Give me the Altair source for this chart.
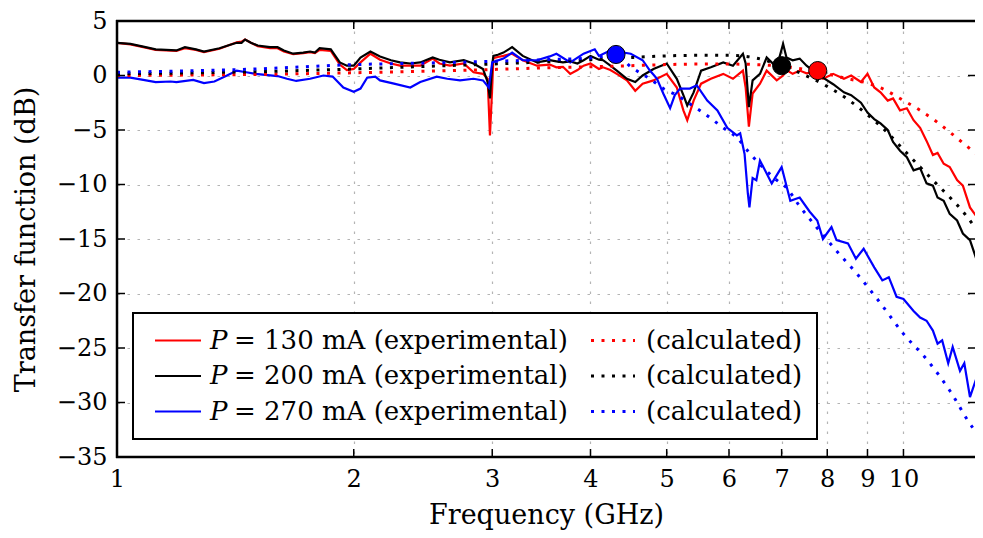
import altair as alt
import pandas as pd

# ---------------- data ----------------
f_exp = [1.00, 1.04, 1.08, 1.12, 1.19, 1.22, 1.26, 1.29, 1.35, 1.39, 1.42, 1.44, 1.455, 1.48, 1.51,
         1.565, 1.60, 1.63, 1.675, 1.725, 1.76, 1.785, 1.81, 1.87, 1.92, 1.96, 2.0, 2.04, 2.10, 2.16,
         2.23, 2.29, 2.36, 2.43, 2.52, 2.57, 2.65, 2.76, 2.84, 2.92, 2.96, 2.98, 3.0, 3.01, 3.05, 3.10,
         3.18, 3.28, 3.42, 3.55, 3.62, 3.69, 3.77, 3.85, 3.92, 4.0, 4.10, 4.15, 4.24, 4.32, 4.45, 4.56,
         4.66, 4.81, 5.0, 5.15, 5.25, 5.31, 5.41, 5.53, 5.69, 5.9, 6.07, 6.25, 6.30, 6.36, 6.43, 6.57,
         6.7, 6.9, 7.03, 7.1, 7.23, 7.38, 7.53, 7.67, 7.9, 8.14, 8.4, 8.58, 8.83, 9.0, 9.18, 9.35, 9.55,
         9.7, 9.9, 10.1, 10.3, 10.5, 10.7, 10.9, 11.05, 11.25, 11.45, 11.7, 11.9, 12.15, 12.4, 12.64]

exp_130 = [3.0, 2.85, 2.6, 2.35, 2.25, 2.5, 2.35, 2.15, 2.45, 2.8, 3.05, 3.1, 3.3, 3.0, 2.7,
           2.5, 2.5, 2.2, 1.95, 2.05, 2.15, 2.05, 2.35, 2.25, 1.0, 0.5, 0.6, 1.2, 2.0, 1.45,
           1.1, 0.9, 0.9, 0.9, 1.55, 1.1, 0.9, 1.1, 0.3, 0.15, -0.3, -5.5, -1.0, 1.6, 1.7, 1.8,
           2.0, 1.4, 0.9, 1.0, 0.75, 0.8, 0.15, 0.5, 0.9, 1.1, 0.6, 0.75, 0.5, 0.15, -0.45, -1.4,
           -0.75, -0.45, 0.15, -1.1, -3.2, -4.1, -2.3, -0.75, -0.3, 0.15, -0.3, 0.45, -1.1, -4.7, -1.65, -0.75,
           0.45, -0.45, 0.0, 0.5, 0.15, 0.45, 0.2, 0.3, -0.3, 0.15, -0.3, 0.0, -0.6, 0.15, -1.1, -1.55, -2.3,
           -2.1, -3.2, -3.0, -4.1, -4.8, -6.0, -7.3, -7.1, -8.1, -8.4, -9.6, -10.1, -12.1, -13.0, -13.5]

exp_200 = [3.0, 2.9, 2.65, 2.4, 2.3, 2.6, 2.4, 2.2, 2.5, 2.8, 3.0, 3.0, 3.3, 3.0, 2.75,
           2.6, 2.6, 2.3, 2.0, 2.1, 2.2, 2.1, 2.5, 2.4, 1.2, 0.9, 0.9, 1.65, 2.2, 1.75,
           1.4, 1.2, 1.1, 1.2, 1.65, 1.45, 1.2, 1.4, 1.1, 0.6, -0.6, -2.1, 1.0, 1.8, 1.9, 2.1,
           2.6, 1.8, 1.2, 1.4, 1.3, 1.2, 1.3, 1.1, 1.4, 1.8, 1.45, 1.4, 0.9, 0.45, -0.3, -0.6,
           0.0, 0.6, 1.1, -0.3, -1.8, -2.75, -1.55, 0.45, 0.75, 1.2, 0.9, 2.0, 1.1, -2.9, -0.45, 0.15,
           1.65, 0.75, 2.9, 1.65, 1.4, 1.55, 0.9, 0.45, -0.2, -0.8, -1.55, -1.8, -2.5, -3.4, -4.0, -4.4, -5.0,
           -6.1, -6.9, -7.5, -8.7, -8.5, -9.9, -10.1, -11.2, -11.5, -12.7, -13.3, -14.5, -15.1, -17.0, -17.9]

f_exp_270 = [1.00, 1.04, 1.08, 1.12, 1.17, 1.19, 1.25, 1.29, 1.33, 1.38, 1.42, 1.46, 1.50, 1.60, 1.645,
             1.69, 1.76, 1.83, 1.88, 1.94, 2.0, 2.04, 2.08, 2.13, 2.16, 2.25, 2.36, 2.43, 2.55, 2.63,
             2.73, 2.84, 2.92, 2.97, 3.0, 3.1, 3.18, 3.28, 3.42, 3.55, 3.62, 3.77, 3.92, 4.05, 4.10,
             4.24, 4.5, 4.66, 4.76, 4.86, 4.95, 5.05, 5.12, 5.2, 5.35, 5.46, 5.63, 5.8, 5.97, 6.14,
             6.2, 6.28, 6.34, 6.37, 6.43, 6.5, 6.57, 6.8, 7.0, 7.18, 7.38, 7.6, 7.77, 7.9, 8.1,
             8.22, 8.5, 8.7, 8.9, 9.18, 9.4, 9.58, 9.8, 10.0, 10.3, 10.5, 10.7, 10.9, 11.05, 11.2,
             11.4, 11.55, 11.8, 11.95, 12.15, 12.35, 12.5, 12.64]
exp_270 = [-0.2, -0.2, -0.4, -0.6, -0.55, -0.6, -0.4, -0.7, -0.55, 0.0, 0.45, 0.3, 0.15, -0.05, -0.3,
           -0.5, -0.3, 0.0, -0.1, -1.1, -1.5, -1.2, -0.2, -0.1, -0.45, -0.75, -1.1, -0.6, -0.1, -0.3,
           -0.45, -0.3, -0.45, -1.1, 1.2, 1.55, 2.1, 1.4, 1.4, 1.75, 2.0, 1.2, 2.0, 2.4, 1.8,
           2.3, 2.0, 1.4, 0.45, -0.3, -1.65, -3.0, -1.8, -1.2, -1.2, -0.9, -2.3, -3.2, -4.8, -5.5,
           -5.3, -7.2, -10.8, -12.1, -9.4, -9.6, -7.8, -9.9, -8.4, -11.5, -11.2, -12.5, -13.3, -15.0, -13.9,
           -15.1, -15.4, -16.8, -15.9, -17.6, -18.8, -18.5, -20.3, -20.5, -21.6, -22.2, -22.5, -23.4, -24.6, -24.3,
           -26.4, -24.9, -27.1, -26.4, -29.5, -28.0, -30.1, -28.6]

f_calc_130 = [1.0, 1.5, 2.0, 2.5, 3.0, 3.5, 4.0, 4.5, 5.0, 5.5, 6.0, 6.5, 7.0, 7.5, 8.0, 8.5, 9.0, 9.4,
              10.0, 10.5, 11.0, 11.5, 12.0, 12.64]
calc_130 = [0.0, 0.1, 0.25, 0.4, 0.55, 0.7, 0.8, 0.9, 1.0, 1.05, 1.05, 1.0, 0.85, 0.55, 0.15, -0.3, -0.7, -1.2,
            -2.3, -3.2, -4.2, -5.3, -6.4, -7.7]

f_calc_200 = [1.0, 1.5, 2.0, 2.5, 3.0, 3.5, 4.0, 4.5, 5.0, 5.5, 6.0, 6.5, 7.0, 7.35, 8.0, 8.5, 9.0, 9.5,
              10.0, 10.5, 11.0, 11.5, 12.0, 12.64]
calc_200 = [0.15, 0.35, 0.6, 0.85, 1.05, 1.25, 1.45, 1.65, 1.8, 1.85, 1.85, 1.6, 0.9, 0.3, -1.0, -2.2, -3.6, -5.1,
            -6.8, -8.4, -9.9, -11.3, -12.8, -15.1]

f_calc_270 = [1.0, 1.5, 2.0, 2.5, 3.0, 3.5, 4.0, 4.31, 4.5, 4.66, 4.76, 4.95, 5.15, 5.35, 5.56, 5.73, 5.9,
              6.14, 6.37, 6.62, 6.9, 7.1, 7.38, 7.75, 8.2, 8.73, 9.35, 10.0, 10.72, 11.45, 12.25, 12.64]
calc_270 = [0.3, 0.6, 1.0, 1.15, 1.3, 1.45, 1.6, 1.9, 0.8, 0.1, -0.3, -1.2, -1.8, -2.6, -3.4, -4.1, -4.8,
            -5.7, -7.1, -8.4, -9.6, -10.3, -12.0, -13.9, -16.0, -18.2, -20.9, -23.7, -26.1, -28.9, -32.3, -33.4]

marker_f = [4.31, 7.0, 7.78]
marker_db = [1.93, 0.9, 0.45]
marker_s = ["270", "200", "130"]

series = ["130", "200", "270"]
colors = ["#ff0000", "#000000", "#0000ff"]
legend_exp = ["= 130 mA (experimental)", "= 200 mA (experimental)", "= 270 mA (experimental)"]
legend_calc = "(calculated)"

x_ticks = [1, 2, 3, 4, 5, 6, 7, 8, 9, 10]
y_ticks = [-35, -30, -25, -20, -15, -10, -5, 0, 5]

# ---------------- tables ----------------
exp_df = pd.concat([
    pd.DataFrame({"f": f_exp, "db": exp_130, "s": "130"}),
    pd.DataFrame({"f": f_exp, "db": exp_200, "s": "200"}),
    pd.DataFrame({"f": f_exp_270, "db": exp_270, "s": "270"}),
])
calc_df = pd.concat([
    pd.DataFrame({"f": f_calc_130, "db": calc_130, "s": "130"}),
    pd.DataFrame({"f": f_calc_200, "db": calc_200, "s": "200"}),
    pd.DataFrame({"f": f_calc_270, "db": calc_270, "s": "270"}),
])
mark_df = pd.DataFrame({"f": marker_f, "db": marker_db, "s": marker_s})

W, H = 858, 436
FONT = "DejaVu Serif"
FS = 24
FS_T = 27
FS_L = 26

xscale = alt.Scale(type="log", domain=[1, 12.33], nice=False)
yscale = alt.Scale(domain=[-35, 5], nice=False)
cscale = alt.Scale(domain=series, range=colors)

xaxis = alt.Axis(values=x_ticks, format="d", title="Frequency (GHz)", grid=True,
                 gridDash=[2.5, 7.5], gridColor="#b4b4b4", gridWidth=1.2, ticks=False, domain=False,
                 labelFlush=False, labelOverlap=False, labelPadding=10, titlePadding=11)
yaxis = alt.Axis(values=y_ticks, format="d", title="Transfer function (dB)", grid=True,
                 gridDash=[2.5, 7.5], gridColor="#b4b4b4", gridWidth=1.2, ticks=False, domain=False,
                 labelPadding=10, titlePadding=16)

exp_lines = alt.Chart(exp_df).mark_line(strokeWidth=2.2, clip=True).encode(
    x=alt.X("f:Q", scale=xscale, axis=xaxis),
    y=alt.Y("db:Q", scale=yscale, axis=yaxis),
    color=alt.Color("s:N", scale=cscale, legend=None),
    order="f:Q",
)
calc_lines = alt.Chart(calc_df).mark_line(strokeWidth=3, strokeDash=[3, 7.5], clip=True,
                                          interpolate="monotone").encode(
    x=alt.X("f:Q", scale=xscale),
    y=alt.Y("db:Q", scale=yscale),
    color=alt.Color("s:N", scale=cscale, legend=None),
    order="f:Q",
)
markers = alt.Chart(mark_df).mark_point(filled=True, shape="circle", size=330, stroke="black",
                                         strokeWidth=1, opacity=1).encode(
    x=alt.X("f:Q", scale=xscale),
    y=alt.Y("db:Q", scale=yscale),
    fill=alt.Fill("s:N", scale=cscale, legend=None),
)

xt = pd.DataFrame({"f": x_ticks})
yt = pd.DataFrame({"db": y_ticks})
tick_len = 8
one = pd.DataFrame({"k": [0]})
frame_and_ticks = [
    alt.Chart(xt).mark_rule(color="black", strokeWidth=1.5).encode(
        x=alt.X("f:Q", scale=xscale), y=alt.value(H), y2=alt.value(H - tick_len)),
    alt.Chart(xt).mark_rule(color="black", strokeWidth=1.5).encode(
        x=alt.X("f:Q", scale=xscale), y=alt.value(0), y2=alt.value(tick_len)),
    alt.Chart(yt).mark_rule(color="black", strokeWidth=1.5).encode(
        y=alt.Y("db:Q", scale=yscale), x=alt.value(0), x2=alt.value(tick_len)),
    alt.Chart(yt).mark_rule(color="black", strokeWidth=1.5).encode(
        y=alt.Y("db:Q", scale=yscale), x=alt.value(W - 7), x2=alt.value(W)),
    alt.Chart(one).mark_rule(color="black", strokeWidth=2.5).encode(
        x=alt.value(-1), x2=alt.value(W), y=alt.value(0)),
    alt.Chart(one).mark_rule(color="black", strokeWidth=2.5).encode(
        x=alt.value(-1), x2=alt.value(W), y=alt.value(H)),
    alt.Chart(one).mark_rule(color="black", strokeWidth=2.5).encode(
        x=alt.value(0), y=alt.value(-1), y2=alt.value(H + 1)),
]

# ---------------- legend (drawn in pixel space) ----------------
legend_layers = [
    alt.Chart(one).mark_rect(fill="white", stroke="black", strokeWidth=2).encode(
        x=alt.value(16), x2=alt.value(700), y=alt.value(292), y2=alt.value(418))
]
row_y = [319.5, 355, 390.5]
for i in range(3):
    ly = row_y[i]
    legend_layers.append(alt.Chart(one).mark_rule(color=colors[i], strokeWidth=2.2).encode(
        x=alt.value(38), x2=alt.value(84), y=alt.value(ly)))
    legend_layers.append(alt.Chart(one).mark_rule(color=colors[i], strokeWidth=3, strokeDash=[3, 7.5]).encode(
        x=alt.value(474), x2=alt.value(518), y=alt.value(ly)))
    legend_layers.append(alt.Chart(pd.DataFrame({"t": ["P"]})).mark_text(
        font=FONT, fontSize=FS_L, fontStyle="italic", align="left", baseline="middle", color="black").encode(
        text="t:N", x=alt.value(93), y=alt.value(ly)))
    legend_layers.append(alt.Chart(pd.DataFrame({"t": [legend_exp[i]]})).mark_text(
        font=FONT, fontSize=FS_L, align="left", baseline="middle", color="black").encode(
        text="t:N", x=alt.value(117), y=alt.value(ly)))
    legend_layers.append(alt.Chart(pd.DataFrame({"t": [legend_calc]})).mark_text(
        font=FONT, fontSize=FS_L, align="left", baseline="middle", color="black").encode(
        text="t:N", x=alt.value(529), y=alt.value(ly)))

chart = alt.layer(exp_lines, calc_lines, markers, *frame_and_ticks, *legend_layers).properties(
    width=W, height=H,
    autosize=alt.AutoSizeParams(type="none"),
    padding={"left": 109, "top": 13, "right": 0, "bottom": 73},
).configure_view(stroke=None).configure_axis(
    labelFont=FONT, labelFontSize=FS, labelColor="black",
    titleFont=FONT, titleFontSize=FS_T, titleFontWeight="normal", titleColor="black",
)

chart.save("out.html", embed_options={"renderer": "svg", "actions": False})
